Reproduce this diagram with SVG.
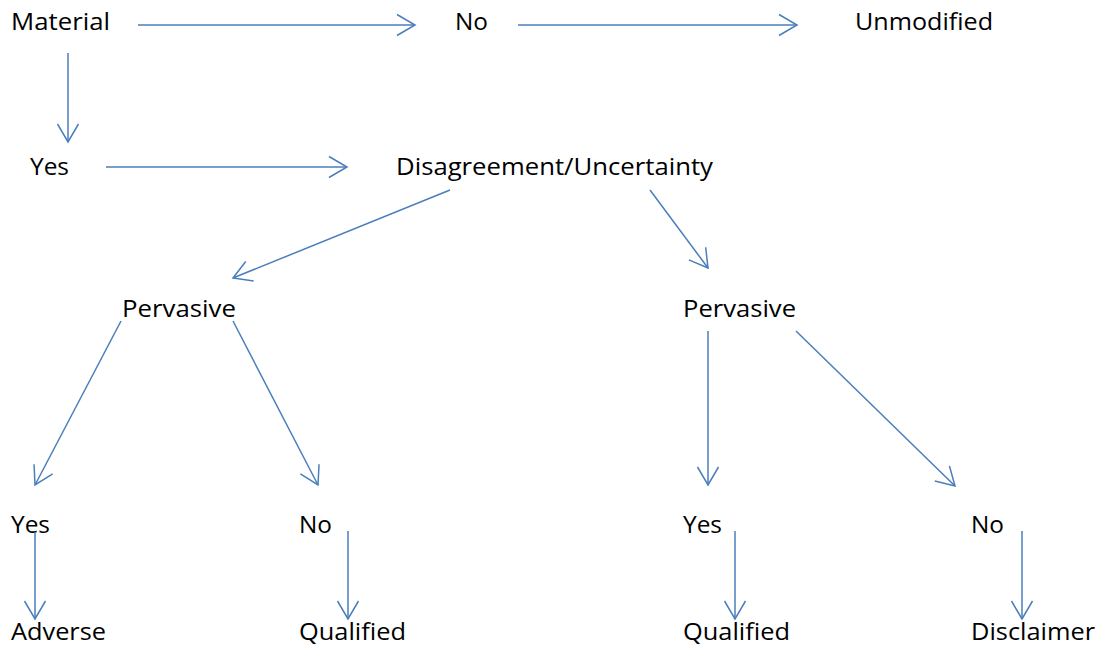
<svg xmlns="http://www.w3.org/2000/svg" width="1099" height="646" viewBox="0 0 1099 646">
<style>
.t{font-family:"Open Sans","Liberation Sans",sans-serif;font-size:24px;fill:#000}
.c line{stroke:#4a7ebb;stroke-width:1.5;fill:none;marker-end:url(#ah)}
</style>
<defs>
<marker id="ah" markerUnits="userSpaceOnUse" viewBox="-20 -12 22 24" refX="0" refY="0" markerWidth="22" markerHeight="24" orient="auto" overflow="visible">
<path d="M-18,-10.5 L0,0 L-18,10.5" fill="none" stroke="#4a7ebb" stroke-width="1.5"/>
</marker>
</defs>
<rect width="1099" height="646" fill="#fff"/>
<g id="n-material"><text class="t" x="11" y="30" textLength="99" lengthAdjust="spacingAndGlyphs">Material</text></g>
<g id="n-no-top"><text class="t" x="455" y="30" textLength="33" lengthAdjust="spacingAndGlyphs">No</text></g>
<g id="n-unmodified"><text class="t" x="855" y="30" textLength="138" lengthAdjust="spacingAndGlyphs">Unmodified</text></g>
<g id="n-yes-top"><text class="t" x="30" y="175" textLength="39" lengthAdjust="spacingAndGlyphs">Yes</text></g>
<g id="n-disagreement"><text class="t" x="396" y="175" textLength="317" lengthAdjust="spacingAndGlyphs">Disagreement/Uncertainty</text></g>
<g id="n-pervasive-l"><text class="t" x="122" y="317" textLength="114" lengthAdjust="spacingAndGlyphs">Pervasive</text></g>
<g id="n-pervasive-r"><text class="t" x="683" y="317" textLength="113" lengthAdjust="spacingAndGlyphs">Pervasive</text></g>
<g id="n-yes-l"><text class="t" x="11" y="533" textLength="39" lengthAdjust="spacingAndGlyphs">Yes</text></g>
<g id="n-no-l"><text class="t" x="299" y="533" textLength="33" lengthAdjust="spacingAndGlyphs">No</text></g>
<g id="n-yes-r"><text class="t" x="683" y="533" textLength="39" lengthAdjust="spacingAndGlyphs">Yes</text></g>
<g id="n-no-r"><text class="t" x="971" y="533" textLength="33" lengthAdjust="spacingAndGlyphs">No</text></g>
<g id="n-adverse"><text class="t" x="11" y="640" textLength="95" lengthAdjust="spacingAndGlyphs">Adverse</text></g>
<g id="n-qualified-l"><text class="t" x="299" y="640" textLength="107" lengthAdjust="spacingAndGlyphs">Qualified</text></g>
<g id="n-qualified-r"><text class="t" x="683" y="640" textLength="107" lengthAdjust="spacingAndGlyphs">Qualified</text></g>
<g id="n-disclaimer"><text class="t" x="971" y="640" textLength="124" lengthAdjust="spacingAndGlyphs">Disclaimer</text></g>
<g id="connectors" class="c">
<line x1="138" y1="25" x2="415" y2="25"/>
<line x1="518" y1="25" x2="797" y2="25"/>
<line x1="68" y1="53" x2="68" y2="142"/>
<line x1="106" y1="167" x2="347" y2="167"/>
<line x1="450" y1="190" x2="233" y2="278"/>
<line x1="650" y1="190" x2="708" y2="268"/>
<line x1="121" y1="321" x2="35" y2="485"/>
<line x1="233" y1="321" x2="318" y2="485"/>
<line x1="708" y1="331" x2="708" y2="485"/>
<line x1="796" y1="331" x2="955" y2="486"/>
<line x1="35" y1="532" x2="35" y2="619"/>
<line x1="348" y1="531" x2="348" y2="619"/>
<line x1="735" y1="531" x2="735" y2="619"/>
<line x1="1022" y1="531" x2="1022" y2="619"/>
</g>
</svg>
